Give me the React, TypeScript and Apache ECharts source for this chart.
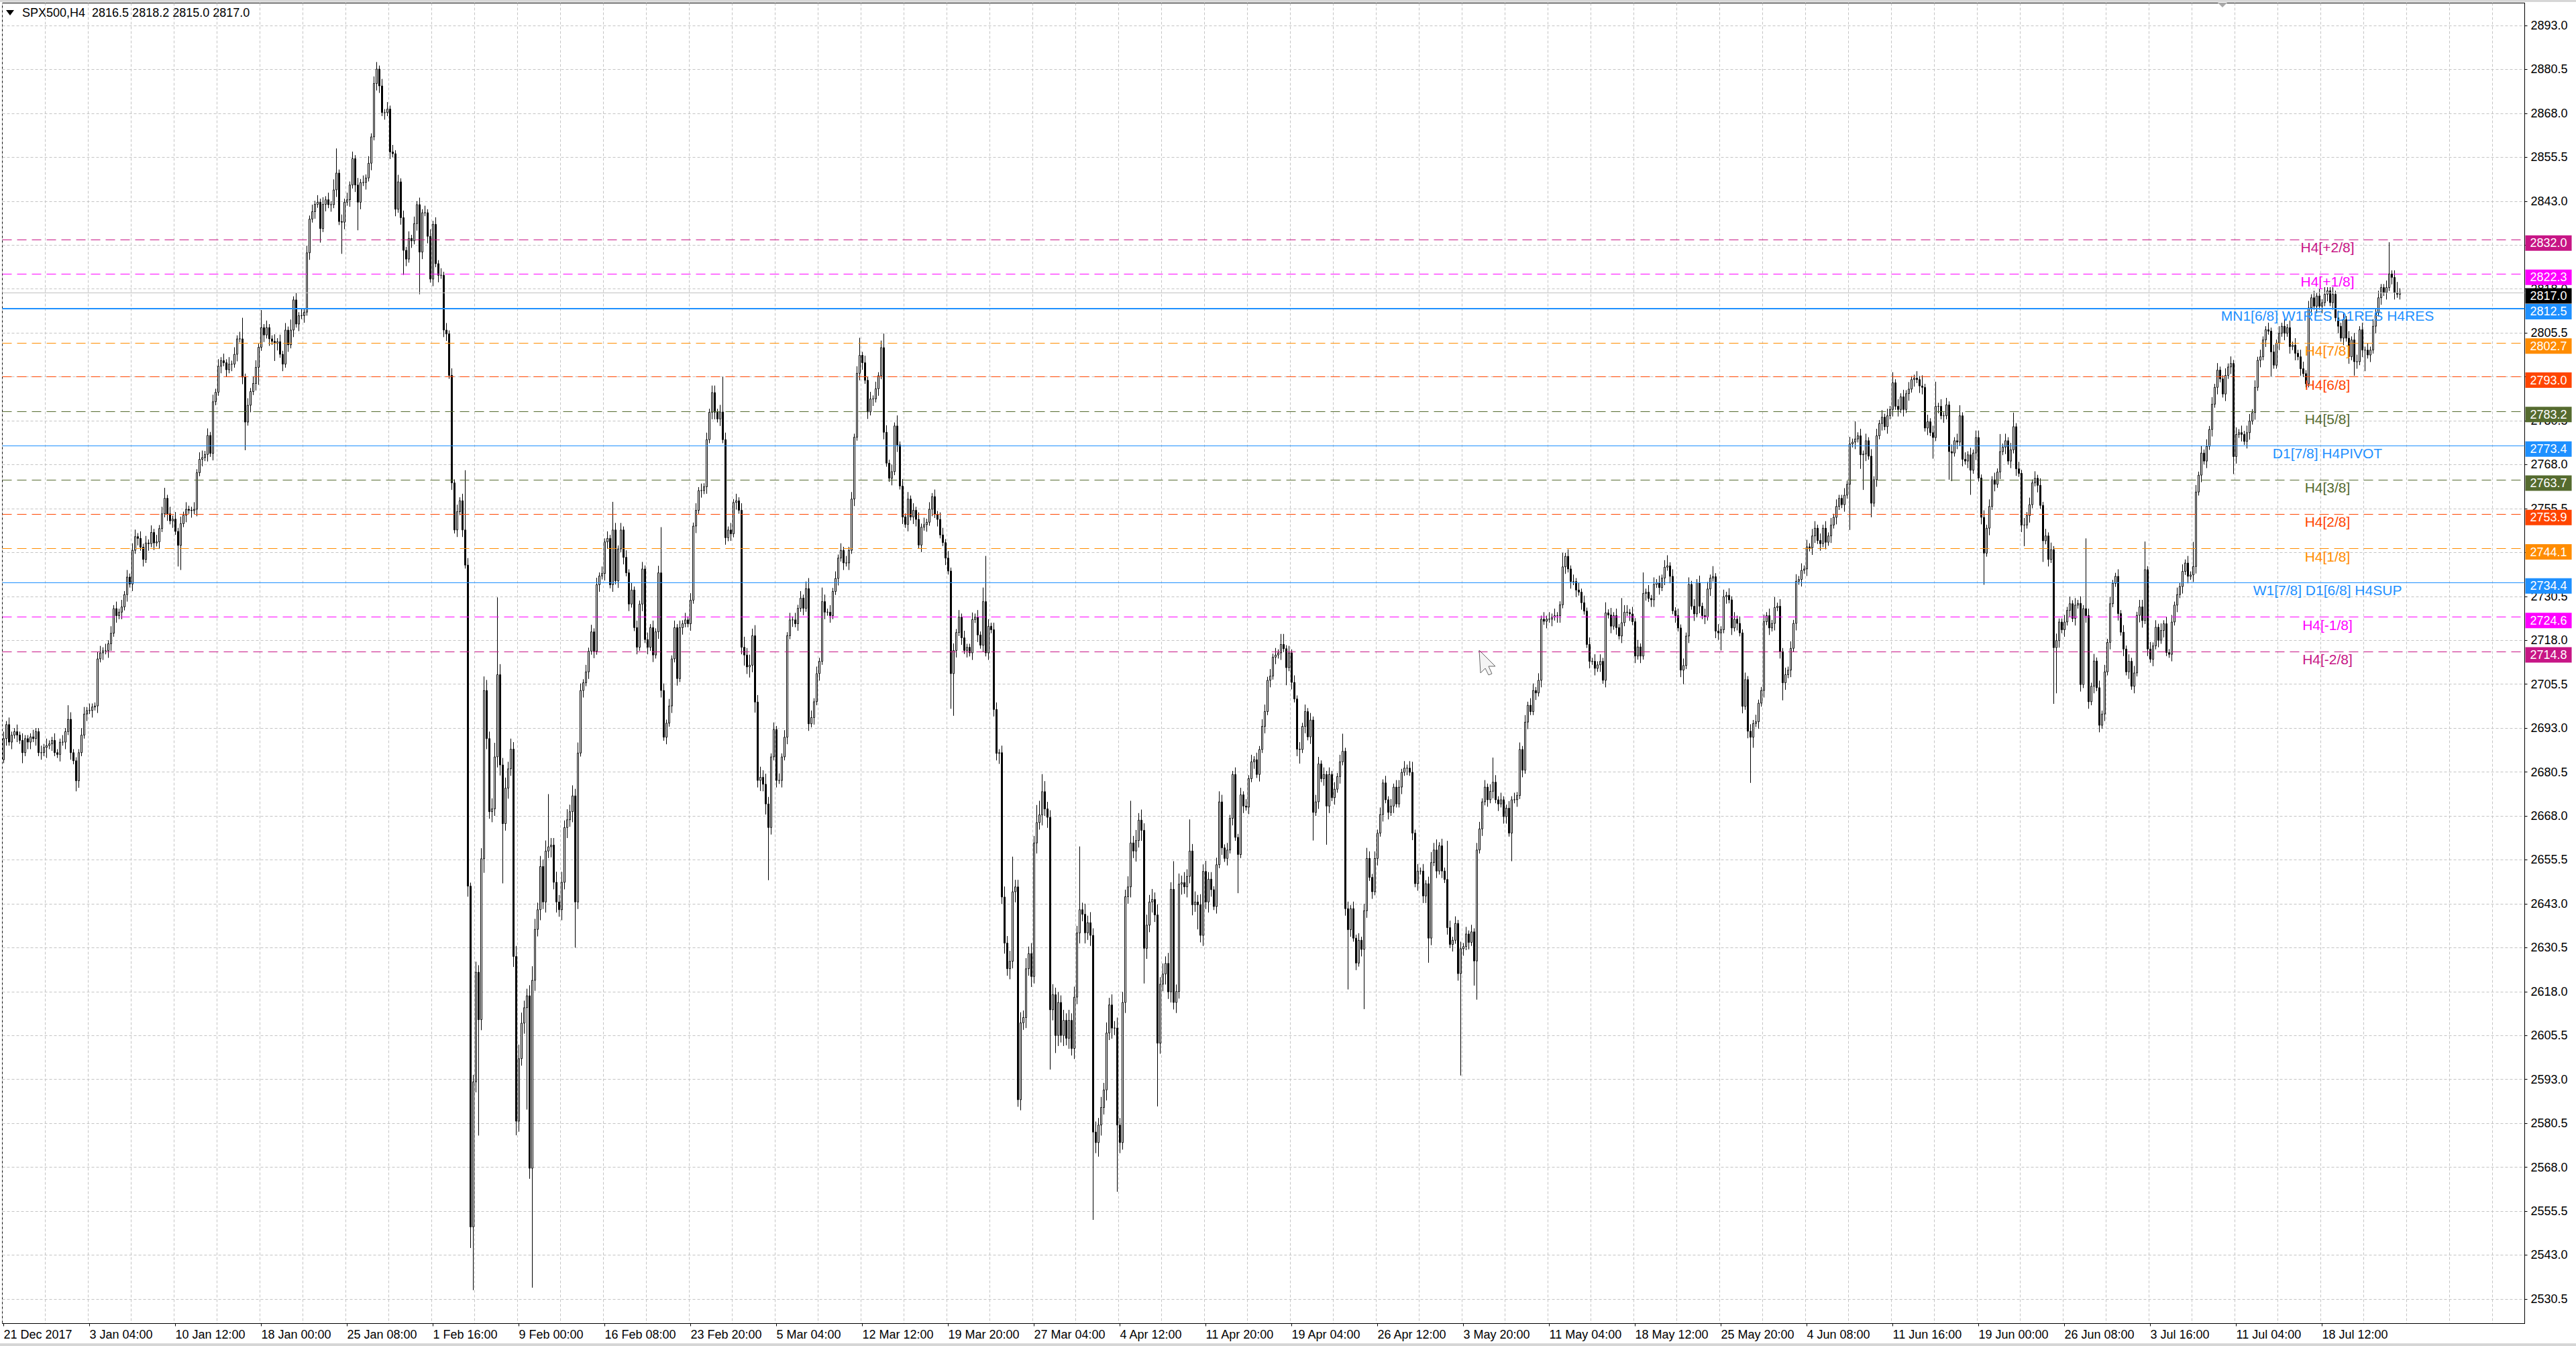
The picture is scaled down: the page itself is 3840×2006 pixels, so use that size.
import React, { useEffect, useRef } from 'react';
import * as echarts from 'echarts';

const FONT = 'Liberation Sans, Arial, sans-serif';

// ---- price data (H4 closes), open = previous close ----
const firstOpen = 2684;
const closesDecJan = [
  2690,2694,2689,2691,2692,2691,2689.5,2686,2690,2689,
  2690.5,2690,2692,2686,2686,2687.5,2688,2688.5,2689.5,2686,
  2685.5,2689,2689,2692,2695.5,2686,2683.7,2678,2686,2691,
  2697,2698,2698,2699,2699.3,2712.7,2714.4,2715,2715,2717,
  2720,2727,2725,2726,2727.5,2731,2736,2734,2743.6,2747.5,
  2747,2744.5,2741,2745.7,2745.5,2748.7,2745.7,2746,2749.8,2754,
  2758.4,2754,2752,2752.5,2749,2745,2751.2,2753.6,2755.3,2755,
  2754.9,2755.3,2765.7,2769.5,2770,2770.9,2776.3,2771.2,2785.9,2788.6,
  2796,2797.6,2797,2795,2796.6,2796.6,2799.4,2803.8,2803.8,2792.9,
  2780.1,2784.9,2788.8,2791.1,2795.7,2801.4,2807,2804.9,2807,2803.8,
  2803.1,2802.5,2803,2799.4,2796.6,2806.3,2802.1,2806.3,2814.9,2808,
  2810.4,2810.4,2811.4,2828.3,2837.9,2840,2842.1,2842.7,2835.2,2842.1,
  2843.4,2842,2842,2846.2,2851,2837.2,2837,2842.7,2843.4,2847.6,
  2855.1,2847.6,2842.7,2848.3,2848.3,2849.6,2853.8,2861.3,2876.5,2880.6,
  2875.8,2868.2,2868.2,2869.2,2857,2856.5,2840.7,2848.5,2838.3,2829,
  2826.5,2832.4,2831.7,2836.6,2842,
];
const closesFebMar = [
  2828.5,2839.7,2839.7,2833,2820.8,2836.4,2825.2,2821.9,2821.9,2806.3,
  2805.2,2793.4,2762.8,2749.4,2754.6,2757.7,2749.4,2739.4,2648,2551,
  2592.3,2623.5,2610,2655.8,2703.7,2690,2669.2,2670,2684.8,2708.2,
  2682.5,2665.8,2675.9,2681.4,2687,2628,2581.1,2598.9,2609,2613.4,
  2616.8,2567.7,2621.2,2635.7,2641.3,2653.6,2643.5,2658,2659.2,2659.7,
  2649.1,2643.5,2641.3,2649.1,2664.7,2666.9,2669.2,2673.7,2643.5,2685.9,
  2703.7,2705.9,2709,2714.9,2720.4,2714.9,2733.8,2736.3,2737,2746,
  2747,2733.8,2749.4,2734.9,2744,2749.4,2741.6,2737.2,2728.3,2732.3,
  2721.6,2716,2728.3,2738.3,2718.2,2716,2721.6,2713.8,2720.4,2737.2,
  2703.7,2690.4,2694.4,2699.3,2712.7,2721.6,2707.1,2721.6,2722.7,2723.8,
  2722.7,2729.4,2750.5,2755,2760.6,2760.6,2761.7,2775.1,2782.9,2788.5,
  2782.9,2781,2783,2775.1,2747.2,2749.4,2748.3,2757.2,2757.7,2755,
  2716,2713.8,2710.4,2710.9,2719.3,2700.4,2678.1,2679,2677,2671.4,
  2664.7,2684.8,2692.6,2678.1,2678.1,2684.8,2690.4,2719.3,2723.8,2723.8,
  2722.7,2727.1,2730,2727.1,2732.7,
];
const closesMarApr = [
  2694.2,2696,2700.5,2708.5,2712,2729,2726,2726,2725,2731.9,
  2735.6,2741.4,2743.6,2740,2740,2743.6,2758.2,2775.8,2794,2799.1,
  2797,2792,2783,2786.7,2786.7,2789.6,2793.3,2801.3,2777.2,2768.4,
  2764.1,2766,2779,2773.6,2761.9,2753.1,2751,2758.2,2753.1,2755,
  2752.4,2745.1,2750.2,2750.9,2751.6,2755.3,2758.9,2753.8,2752.4,2748,
  2745.8,2741.4,2737.7,2708.5,2715.1,2720.2,2724.6,2718.7,2715.1,2716,
  2714.4,2723.9,2724.6,2719.5,2716.6,2729,2714.4,2722,2721,2698.3,
  2685.8,2686,2644.9,2631.8,2624.5,2626.6,2646.4,2647.8,2587.2,2609.1,
  2610.6,2624.5,2628.8,2622.3,2660.3,2666.1,2668.3,2674.9,2670,2667.6,
  2612.8,2617.1,2605.5,2614.9,2605.5,2609.8,2604.7,2609.8,2601.8,2616.4,
  2634.7,2641.3,2640,2634.7,2637.6,2634,2578,2575,2580,2585,
  2590,2606.2,2614.2,2607.6,2607.6,2580,2575,2614.9,2645,2647.8,
  2660.3,2658,2661,2666.8,2663.9,2630.3,2636.9,2643.5,2644.2,2639.8,
  2603.3,2620.1,2623,2626,2617.9,2647.1,2614.9,2618,2648.6,2649,
  2647.8,2650.8,2658,2642.7,2643.5,2642.7,2634,2652.2,2643.5,2650,
];
const closesAprMay = [
  2647,2642.2,2654.1,2672,2658.9,2655.9,2658.3,2667.3,2679.8,2661.9,
  2657,2674,2670.8,2670.5,2678.6,2683.4,2684,2679.8,2686.9,2693.5,
  2697.7,2706.6,2707.8,2713.2,2713.8,2714.4,2716.8,2715.6,2710.2,2714.4,
  2706,2701.3,2687,2686.9,2693.5,2697.7,2690.5,2695.3,2669,2672,
  2682.8,2678.6,2679.8,2670.8,2679.8,2673.2,2675.6,2679.2,2683.4,2686.4,
  2641.6,2635.6,2641.6,2633.2,2626.1,2632.6,2630,2641,2655.9,2650.5,
  2646.4,2655.9,2663.1,2668.4,2677.4,2672.6,2669,2670.8,2676.2,2671.4,
  2676.2,2680.4,2681.6,2681.6,2680.4,2663.1,2648.7,2652.3,2652.3,2645.2,
  2648.7,2633.2,2654.7,2658.3,2652.3,2659.5,2652.3,2649.9,2636.2,2631.4,
  2632.6,2637.4,2623.1,2630.2,2630.8,2634.4,2632,2635,2626.7,2658.3,
  2664.3,2672,2676.2,2672.6,2675,2677.6,2672.6,2671.4,2672.6,2667.8,
  2670.2,2663.1,2672.6,2672.6,2673.8,2686.9,2681,2694.7,2699.5,2697.7,
  2703.7,2703,2706.6,2724,2723.4,2724,2724,2724.6,2725,2725,
  2728.1,2738.9,2741.9,2738.3,2734.7,2734.7,2732.3,2731.7,2728.7,2726.3,
  2716.8,2712,2712,2710,2711,2712,2706.6,2725.8,2725.2,2722,
  2725,2721.6,2719.2,2723,2726,
];
const closesMayJun = [
  2725.9,2725.5,2723.3,2713.5,2716.1,2713.5,2731.3,2731.7,2729.9,2729.5,
  2733.9,2734.4,2733,2735.7,2738.8,2739.2,2736.2,2726.4,2725,2721.5,
  2709.5,2710.8,2719.2,2733.9,2727.7,2725.5,2734.4,2727.7,2725,2724.6,
  2732.6,2735.7,2736.1,2720.6,2720.1,2721,2730.4,2730.8,2729.5,2721.5,
  2724,2722.8,2720.1,2699.2,2706.8,2692.1,2690.4,2694.3,2694.8,2700.1,
  2703.7,2723.3,2725,2721.5,2722.8,2727.3,2727.7,2714.8,2705.9,2708.2,
  2709.5,2715.7,2722.8,2734.8,2735.3,2737.9,2738.3,2744.6,2744.3,2747.7,
  2749.9,2746.4,2745.5,2749.9,2745.9,2747.7,2750.8,2753,2756.1,2758.4,
  2756.6,2759.3,2762.4,2773.9,2774.4,2775.3,2776.2,2770.8,2771,2774.8,
  2770.4,2757,2763.7,2776.2,2779.7,2781.5,2778.8,2781.9,2783.7,2791.3,
  2784.6,2783.7,2787.3,2783.7,2788.2,2789.5,2792.2,2792.6,2792.2,2790.4,
  2790,2778.4,2780.2,2777.1,2775.7,2784.6,2784.6,2781.9,2781.9,2785,
  2771.7,2771.3,2774.8,2774.4,2781.9,2769.5,2769,2770.8,2766.4,2771.3,
  2775.7,2764.2,2753,2742.8,2749.9,2756.1,2763.7,2762.4,2765.9,2771.7,
  2773,2774.8,2769,2772.2,2778.8,2766.8,2765.5,2750.8,2750.8,2753.5,
  2756.6,2762.8,
];
const closesJunJul = [
  2764.1,2762.1,2756.4,2746.3,2747.7,2741,2743.8,2715.9,2717.9,2723.2,
  2721,2723.2,2726.5,2728.4,2724.2,2728,2728.5,2705.4,2727,2725,
  2700.5,2704.9,2712.1,2704.5,2693.8,2697,2709,2717.4,2728.4,2734.2,
  2736.2,2725.6,2720.3,2715.5,2709,2712,2704.9,2708.7,2725.1,2727.5,
  2723.6,2738.1,2715.5,2712.6,2716.4,2721.7,2718,2720.8,2722.7,2714.5,
  2714,2723.2,2728,2731,2733.3,2737.6,2740,2736.2,2736.6,2739,
  2760.2,2765,2771.3,2769,2773.2,2778,2785.2,2790,2794.9,2792.4,
  2788.1,2793.4,2795.8,2796.8,2770.3,2776.6,2777.1,2776.6,2774.6,2777.1,
  2780.4,2782.8,2790,2797.7,2798.7,2803.5,2806.4,2806,2800.1,2796.3,
  2802.6,2805.4,2807.4,2805.4,2807,2801.6,2802,2799.7,2798.7,2795.3,
  2793.9,2791,2812.6,2815.5,2813.1,2816,2813.1,2814.1,2816.5,2817.5,
  2814.1,2816.5,2809.8,2807.4,2804,2809.3,2804,2798.7,2803.5,2797.3,
  2797.3,2806.4,2800.6,2800.6,2799.2,2800.6,2807.4,2811.2,2815.5,2818.4,
  2817,2818.4,2822.3,2821.3,2817,2816.5,2817,
];

// wick lengths in points above / below the body, one base-36 digit per bar
const upperWicks = [
  '2121121211 1211212112 1121421112 2121122121 2121212122 1212121212 3121212121 1212212121 2121212126 1212215121 1212121312 1212121212 1213712121 2121212122 1212121212 12121',
  '2121212121 2121212h21 232343234m 3232323432 23432323f2 2323232323 2121212121 2182121212 1212121212 d212121212 1212121212 212a212121 2323232323 2121212121 21212',
  '3212142121 2121212125 1212121242 1213121212 1212121212 2121212121 121214d212 212323a223 2323254532 2323232323 2i23232323 2323232323 c232323232 3232328232 3292323232',
  '2123212112 1212121212 2121213312 1212121212 2121212125 1212121232 1212121212 2121231212 12323121b2 1212121212 2121272121 1212121212 2121212121 1412121212 1212121312 12172',
  '2121216121 2121231212 1212121212 2131212121 2121212121 1212131212 1212121212 2121212121 1212151212 1212121213 1212121121 3121271212 1212312121 2212121215 1212412121 21',
  '2121212121 121212121k 2121212121 1212121212 2812121212 1212121217 2121212121 1212121212 2121211212 1212121212 2121212121 1212121212 2121212121 1291231',
];
const lowerWicks = [
  '1212121312 2121213121 1212121321 1212121212 2121212121 2121212121 1212167121 2121212121 1212121212 8121251212 1521212121 2121212141 2121219212 1282121212 2121212127 21212',
  'c212121212 2121212136 i3x3432323 3h23234323 t3y3232323 23232323d2 1212121212 2121212121 1212121212 2121212121 1212121212 2121212121 2323232323 f212121212 12121',
  '2121212121 1212121212 2121212121 1212121212 2121212121 121ac21212 1212121212 2323232323 2323232323 h353232323 232323p343 23232j3232 32323a3232 i323232323 2323272323',
  '2121212121 b121212121 2121212151 2124121281 212b212121 2h21212h21 2121212121 1212121212 2721212121 212t21217b 1212121212 2181212121 1212121212 2121212121 1212121212 12121',
  '1212121212 2121212121 2412121212 1212251212 121212d312 1212121252 1212121212 2121212121 121d1214a2 1412121212 1212121212 2121612121 8812121271 2129121212 1212121261 21',
  '1216121gd2 1212121212 2121212121 1212121212 2121212121 1212121212 2121212121 1212521212 2121212171 1212121212 1112121212 1212121214 2126121212 1212211',
];

// last bar O/H/L/C as in the header
const lastOHLC = [2816.5, 2818.2, 2815.0, 2817.0];

const timeLabels = [
  '21 Dec 2017', '3 Jan 04:00', '10 Jan 12:00', '18 Jan 00:00', '25 Jan 08:00', '1 Feb 16:00',
  '9 Feb 00:00', '16 Feb 08:00', '23 Feb 20:00', '5 Mar 04:00', '12 Mar 12:00', '19 Mar 20:00',
  '27 Mar 04:00', '4 Apr 12:00', '11 Apr 20:00', '19 Apr 04:00', '26 Apr 12:00', '3 May 20:00',
  '11 May 04:00', '18 May 12:00', '25 May 20:00', '4 Jun 08:00', '11 Jun 16:00', '19 Jun 00:00',
  '26 Jun 08:00', '3 Jul 16:00', '11 Jul 04:00', '18 Jul 12:00',
];
const barsPerLabel = 32;
const barsPerGrid = 16;
const totalSlots = 940;

const priceTicks = [
  2530.5, 2543.0, 2555.5, 2568.0, 2580.5, 2593.0, 2605.5, 2618.0, 2630.5, 2643.0,
  2655.5, 2668.0, 2680.5, 2693.0, 2705.5, 2718.0, 2730.5, 2743.0, 2755.5, 2768.0,
  2780.5, 2793.0, 2805.5, 2818.0, 2830.5, 2843.0, 2855.5, 2868.0, 2880.5, 2893.0,
];
const yMin = 2523.5;
const yMax = 2899.4;

const levelValues = [2832.0, 2822.3, 2812.5, 2802.7, 2793.0, 2783.2, 2773.4, 2763.7, 2753.9, 2744.1, 2734.4, 2724.6, 2714.8];
const levelNames = [
  'H4[+2/8]', 'H4[+1/8]', 'MN1[6/8] W1RES D1RES H4RES', 'H4[7/8]', 'H4[6/8]', 'H4[5/8]',
  'D1[7/8] H4PIVOT', 'H4[3/8]', 'H4[2/8]', 'H4[1/8]', 'W1[7/8] D1[6/8] H4SUP', 'H4[-1/8]', 'H4[-2/8]',
];
const levelColors = [
  '#C71585', '#FF00FF', '#1E90FF', '#FF8C00', '#FF4500', '#556B2F',
  '#1E90FF', '#556B2F', '#FF4500', '#FF8C00', '#1E90FF', '#FF00FF', '#C71585',
];
const levelDashed = [true, true, false, true, true, true, false, true, true, true, false, true, true];
const levelWidths = [1, 1, 2, 1, 1, 1, 1, 1, 1, 1, 1, 1, 1];
const currentPrice = 2817.0;
const levelLabelSlot = 866;

function buildCandles() {
  const closes = [
    ...closesDecJan, ...closesFebMar, ...closesMarApr,
    ...closesAprMay, ...closesMayJun, ...closesJunJul,
  ];
  const up = upperWicks.join('').replace(/\s/g, '');
  const dn = lowerWicks.join('').replace(/\s/g, '');
  const out: number[][] = closes.map((c, i) => {
    const o = i === 0 ? firstOpen : closes[i - 1];
    const u = parseInt(up[i] ?? '1', 36) || 0;
    const d = parseInt(dn[i] ?? '1', 36) || 0;
    return [o, c, Math.min(o, c) - d, Math.max(o, c) + u];
  });
  const last = out.length - 1;
  out[last] = [lastOHLC[0], lastOHLC[3], lastOHLC[2], lastOHLC[1]];
  return out;
}

export default function App() {
  const ref = useRef<HTMLDivElement>(null);
  useEffect(() => {
    document.body.style.margin = '0';
    document.body.style.overflow = 'hidden';
    if (!ref.current) return;
    const chart = echarts.init(ref.current, null, { renderer: 'svg' });
    const candles = buildCandles();
    const slots = Array.from({ length: totalSlots }, (_, i) => String(i));
    const labelInterval = (index: number) =>
      index % barsPerLabel === 0 && index / barsPerLabel < timeLabels.length;

    const markLineData: any[] = levelValues.map((v, k) => ({
      yAxis: v,
      lineStyle: {
        color: levelColors[k],
        type: levelDashed[k] ? [14, 8] : 'solid',
        width: levelWidths[k],
      },
      label: { show: false },
    }));
    markLineData.push({
      yAxis: currentPrice,
      lineStyle: { color: '#c0c0c0', type: 'solid', width: 1 },
      label: { show: false },
    });

    const tagStyle = {
      show: true,
      position: 'right',
      distance: 3,
      offset: [0, 5],
      color: '#fff',
      fontSize: 18,
      fontFamily: FONT,
      padding: [3, 7, 2, 7],
    };
    const nameLabels = levelValues.map((v, k) => ({
      coord: [levelLabelSlot, v],
      value: v,
      label: {
        show: true,
        position: 'bottom',
        distance: 1,
        formatter: levelNames[k],
        color: levelColors[k],
        fontSize: 21,
        fontFamily: FONT,
      },
    }));
    const priceTags = [...levelValues, currentPrice].map((v, k) => ({
      coord: [totalSlots - 1, v],
      value: v,
      label: {
        ...tagStyle,
        backgroundColor: k < levelValues.length ? levelColors[k] : '#000',
        formatter: v.toFixed(1),
      },
    }));

    const title = `SPX500,H4  ${lastOHLC.map((v) => v.toFixed(1)).join(' ')}`;

    chart.setOption({
      animation: false,
      backgroundColor: '#ffffff',
      grid: {
        left: 3.5, top: 4.5, right: 76.5, bottom: 33.5,
        show: true, borderColor: '#000', borderWidth: 1, backgroundColor: '#fff',
      },
      xAxis: {
        type: 'category',
        data: slots,
        boundaryGap: true,
        axisLine: { show: true, lineStyle: { color: '#000', width: 1 } },
        axisTick: {
          show: true, alignWithLabel: true, interval: labelInterval, length: 4,
          lineStyle: { color: '#000' },
        },
        axisLabel: {
          show: true,
          interval: labelInterval,
          formatter: (v: string) => timeLabels[Number(v) / barsPerLabel] ?? '',
          align: 'left',
          margin: 7,
          fontSize: 18,
          fontFamily: FONT,
          color: '#000',
        },
        splitLine: {
          show: true,
          interval: (i: number) => i % barsPerGrid === 0,
          lineStyle: { color: '#c4c4c4', type: [4, 3], width: 1 },
        },
      },
      yAxis: {
        type: 'value',
        position: 'right',
        min: yMin,
        max: yMax,
        axisLine: { show: true, onZero: false, lineStyle: { color: '#000', width: 1 } },
        axisTick: {
          show: true, customValues: priceTicks, length: 4, lineStyle: { color: '#000' },
        },
        axisLabel: {
          show: true,
          customValues: priceTicks,
          formatter: (v: number) => v.toFixed(1),
          margin: 9,
          fontSize: 18,
          fontFamily: FONT,
          color: '#000',
        },
        splitLine: {
          show: true,
          lineStyle: { color: '#c4c4c4', type: [4, 3], width: 1 },
        },
      },
      series: [
        {
          type: 'candlestick',
          data: candles,
          barWidth: 2,
          large: false,
          progressive: 0,
          itemStyle: {
            color: '#ffffff',
            color0: '#000000',
            borderColor: '#000000',
            borderColor0: '#000000',
            borderWidth: 1,
          },
          markLine: {
            silent: true,
            symbol: ['none', 'none'],
            data: markLineData,
          },
          markPoint: {
            silent: true,
            symbol: 'circle',
            symbolSize: 0,
            itemStyle: { color: 'transparent' },
            data: [...nameLabels, ...priceTags],
          },
        },
      ],
      graphic: [
        { type: 'rect', shape: { x: 0, y: 0, width: 3840, height: 3 }, style: { fill: '#d6d6d6' } },
        { type: 'rect', shape: { x: 0, y: 2002, width: 3840, height: 4 }, style: { fill: '#d6d6d6' } },
        {
          type: 'polygon',
          shape: { points: [[9, 15], [21, 15], [15, 23]] },
          style: { fill: '#000' },
        },
        {
          type: 'text',
          x: 33, y: 19,
          style: { text: title, fontSize: 18, fontFamily: FONT, fill: '#000', verticalAlign: 'middle' },
        },
        {
          type: 'polygon',
          shape: { points: [[3306, 4], [3320, 4], [3313, 11]] },
          style: { fill: '#a8a8a8' },
        },
        {
          type: 'polygon',
          shape: {
            points: [[2205, 969], [2229, 993], [2219, 993], [2224, 1004], [2219, 1006], [2214, 996], [2207, 1003]],
          },
          style: { fill: '#f4f4f4', stroke: '#666', lineWidth: 1 },
        },
      ],
    });
    return () => chart.dispose();
  }, []);
  return <div ref={ref} style={{ width: '3840px', height: '2006px' }} />;
}
